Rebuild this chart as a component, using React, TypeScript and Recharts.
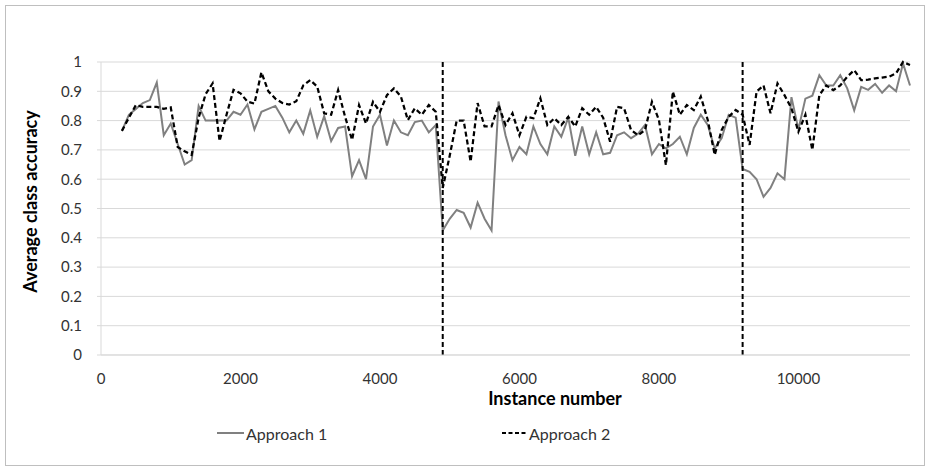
import React from 'react';
import { LineChart, Line, XAxis, YAxis, CartesianGrid, ReferenceLine, Label } from 'recharts';

const instances = [300,400,500,600,700,800,900,1000,1100,1200,1300,1400,1500,1600,1700,1800,1900,2000,2100,2200,2300,2400,2500,2600,2700,2800,2900,3000,3100,3200,3300,3400,3500,3600,3700,3800,3900,4000,4100,4200,4300,4400,4500,4600,4700,4800,4900,5000,5100,5200,5300,5400,5500,5600,5700,5800,5900,6000,6100,6200,6300,6400,6500,6600,6700,6800,6900,7000,7100,7200,7300,7400,7500,7600,7700,7800,7900,8000,8100,8200,8300,8400,8500,8600,8700,8800,8900,9000,9100,9200,9300,9400,9500,9600,9700,9800,9900,10000,10100,10200,10300,10400,10500,10600,10700,10800,10900,11000,11100,11200,11300,11400,11500,11600];

const approach1 = [
  0.765,0.82,0.84,0.86,0.87,0.93,0.75,0.79,0.72,0.65,
  0.665,0.85,0.80,0.80,0.80,0.80,0.83,0.82,0.855,0.77,
  0.83,0.84,0.85,0.81,0.76,0.80,0.755,0.835,0.745,0.815,
  0.73,0.775,0.78,0.61,0.665,0.60,0.78,0.82,0.715,0.80,
  0.76,0.75,0.795,0.80,0.76,0.785,0.425,0.465,0.495,0.485,
  0.435,0.52,0.465,0.425,0.865,0.75,0.665,0.71,0.685,0.78,
  0.72,0.685,0.78,0.745,0.81,0.68,0.78,0.685,0.76,0.685,
  0.69,0.75,0.76,0.74,0.755,0.785,0.685,0.72,0.705,0.72,
  0.745,0.685,0.775,0.82,0.785,0.705,0.74,0.82,0.81,0.635,
  0.625,0.60,0.54,0.57,0.62,0.60,0.88,0.77,0.875,0.885,
  0.955,0.92,0.92,0.955,0.91,0.835,0.915,0.905,0.925,0.895,
  0.92,0.90,0.995,0.92,
];

const approach2 = [
  0.765,0.81,0.853,0.847,0.847,0.847,0.84,0.845,0.71,0.695,
  0.683,0.81,0.89,0.927,0.73,0.82,0.905,0.893,0.865,0.858,
  0.965,0.90,0.875,0.86,0.855,0.866,0.92,0.938,0.916,0.825,
  0.82,0.904,0.813,0.734,0.853,0.79,0.864,0.83,0.887,0.91,
  0.882,0.802,0.842,0.82,0.853,0.83,0.57,0.68,0.80,0.80,
  0.66,0.86,0.78,0.78,0.853,0.785,0.825,0.75,0.813,0.808,
  0.876,0.785,0.808,0.785,0.813,0.78,0.842,0.82,0.847,0.81,
  0.728,0.847,0.842,0.768,0.75,0.768,0.864,0.802,0.648,0.899,
  0.82,0.853,0.836,0.882,0.802,0.683,0.768,0.813,0.836,0.82,
  0.717,0.899,0.92,0.825,0.927,0.887,0.842,0.762,0.82,0.70,
  0.887,0.92,0.904,0.92,0.95,0.972,0.938,0.94,0.944,0.947,
  0.95,0.961,1.0,0.99,
];

const xTicks = [0, 2000, 4000, 6000, 8000, 10000];
const yTicks = [0, 0.1, 0.2, 0.3, 0.4, 0.5, 0.6, 0.7, 0.8, 0.9, 1];
const driftPoints = [4900, 9200];
const seriesNames = ['Approach 1', 'Approach 2'];
const xTitle = 'Instance number';
const yTitle = 'Average class accuracy';

const data = instances.map((n, i) => ({ n, a1: approach1[i], a2: approach2[i] }));

const FONT = 'Lato, "Open Sans", sans-serif';
const GRAY = '#808080';

export default function App() {
  return (
    <div style={{ position: 'absolute', left: 0, top: 0, width: 930, height: 469, background: '#fff', fontFamily: FONT }}>
      <div style={{ position: 'absolute', left: 5, top: 5, width: 920, height: 461, border: '1px solid #bfbfbf', boxSizing: 'border-box' }} />
      <div style={{ position: 'absolute', left: 0, top: 0 }}>
        <LineChart width={930} height={469} data={data} margin={{ top: 62, right: 20, bottom: 0, left: 0 }}>
          <CartesianGrid horizontal={true} vertical={false} stroke="#d9d9d9" strokeWidth={1} />
          <XAxis
            dataKey="n"
            type="number"
            domain={[0, 11600]}
            ticks={xTicks}
            height={114}
            tickLine={false}
            tickSize={0}
            tickMargin={18}
            axisLine={{ stroke: '#d9d9d9' }}
            tick={{ fill: '#333', fontSize: 15, fontFamily: FONT }}
            interval={0}
          >
            <Label
              content={(props: any) => {
                const vb = props.viewBox || {};
                return (
                  <text x={vb.x + 454} y={398} textAnchor="middle" dominantBaseline="central"
                    style={{ fontFamily: FONT, fontSize: 18, fontWeight: 700, fill: '#000' }}>
                    {xTitle}
                  </text>
                );
              }}
            />
          </XAxis>
          <YAxis
            type="number"
            domain={[0, 1]}
            ticks={yTicks}
            width={101}
            tickLine={{ stroke: '#d9d9d9' }}
            tickSize={4}
            tickMargin={15}
            axisLine={{ stroke: '#d9d9d9' }}
            tick={{ fill: '#333', fontSize: 15, fontFamily: FONT }}
            tickFormatter={(v: number) => String(Number(v.toFixed(1)))}
            interval={0}
          >
            <Label
              content={(props: any) => {
                const vb = props.viewBox || {};
                const cx = 30;
                const cy = vb.y + vb.height / 2 - 7;
                return (
                  <text x={cx} y={cy} textAnchor="middle" dominantBaseline="central"
                    transform={`rotate(-90, ${cx}, ${cy})`}
                    style={{ fontFamily: FONT, fontSize: 18, fontWeight: 700, fill: '#000' }}>
                    {yTitle}
                  </text>
                );
              }}
            />
          </YAxis>
          <Line type="linear" dataKey="a1" name={seriesNames[0]} stroke={GRAY} strokeWidth={2} dot={false} isAnimationActive={false} />
          <Line type="linear" dataKey="a2" name={seriesNames[1]} stroke="#000" strokeWidth={2.25} strokeDasharray="5 3" dot={false} isAnimationActive={false} />
          {driftPoints.map((d) => (
            <ReferenceLine key={d} x={d} stroke="#000" strokeWidth={2} strokeDasharray="5 3" />
          ))}
        </LineChart>
      </div>
      <div style={{ position: 'absolute', left: 217, top: 423, height: 20, display: 'flex', alignItems: 'center', fontSize: 16, color: '#333' }}>
        <svg width={27} height={20}><line x1={0} y1={10} x2={27} y2={10} stroke={GRAY} strokeWidth={2} /></svg>
        <span style={{ marginLeft: 2 }}>{seriesNames[0]}</span>
      </div>
      <div style={{ position: 'absolute', left: 502, top: 423, height: 20, display: 'flex', alignItems: 'center', fontSize: 16, color: '#333' }}>
        <svg width={26} height={20}><line x1={0} y1={10} x2={26} y2={10} stroke="#000" strokeWidth={2} strokeDasharray="4 2.5" /></svg>
        <span style={{ marginLeft: 1 }}>{seriesNames[1]}</span>
      </div>
    </div>
  );
}
